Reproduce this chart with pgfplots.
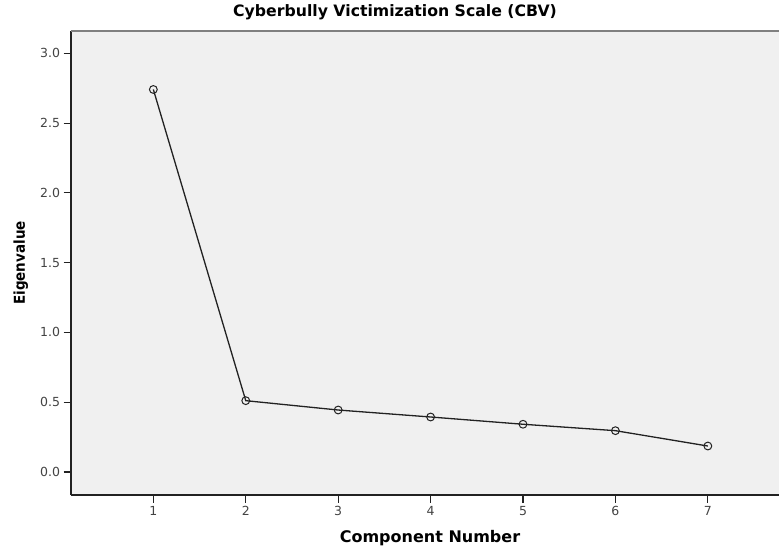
\documentclass[border=0pt]{standalone}
\usepackage{pgfplots}
\pgfplotsset{compat=1.18}
\usepackage{fontspec}
\setmainfont{DejaVu Sans}
\newfontfamily\boldsans{DejaVu Sans Bold}
\newfontfamily\condbold{DejaVu Sans Condensed Bold}
\definecolor{panelbg}{HTML}{F0F0F0}
\definecolor{ink}{HTML}{222222}
\begin{document}
\begin{tikzpicture}
\path[use as bounding box] (0,0) rectangle (779pt,550pt);
\begin{axis}[
  at={(71pt,55pt)}, anchor=south west,
  scale only axis, width=708pt, height=464pt,
  xmin=0.109, xmax=7.77, ymin=-0.165, ymax=3.16,
  axis x line*=bottom, axis y line*=left,
  axis line style={-, ink, line width=1.3pt},
  axis background/.style={fill=panelbg},
  xtick={1,...,7},
  ytick={0,0.5,...,3.0},
  tick align=outside, major tick length=7.5pt,
  tick style={ink, line width=1.1pt},
  yticklabel style={/pgf/number format/.cd, fixed, fixed zerofill, precision=1, assume math mode=true},
  xticklabel style={/pgf/number format/assume math mode=true},
  tick label style={font=\fontsize{12.5}{14}\selectfont, text=ink!85},
  xlabel={\boldsans\fontsize{16}{18}\selectfont Component Number},
  ylabel={\condbold\fontsize{15}{17}\selectfont Eigenvalue},
  xlabel style={at={(axis description cs:0.5,0)}, anchor=base, yshift=-47pt, xshift=5pt},
  ylabel style={at={(axis description cs:0,0.5)}, anchor=base, rotate=0, yshift=46pt},
  clip=false,
]
\draw[gray, line width=1.3pt] (rel axis cs:0,1) -- (rel axis cs:1,1);
\addplot[ink, line width=1.3pt, mark=o, mark size=3.9pt, mark options={line width=1pt, ink}]
  coordinates {(1,2.741) (2,0.511) (3,0.444) (4,0.394) (5,0.342) (6,0.296) (7,0.186)};
\end{axis}
\node[font=\boldsans\fontsize{15.7}{18}\selectfont, anchor=base] at (395pt,533.5pt) {Cyberbully Victimization Scale (CBV)};
\end{tikzpicture}
\end{document}
